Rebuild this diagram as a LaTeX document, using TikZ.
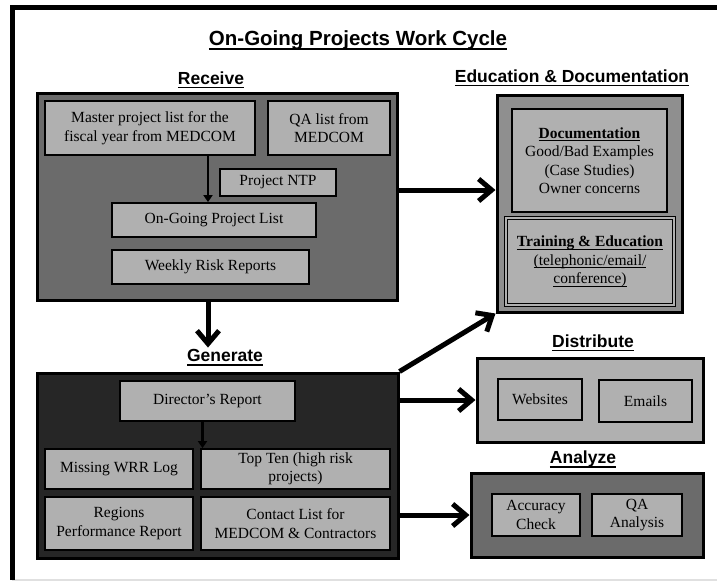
\documentclass[tikz,border=0pt]{standalone}
\usepackage{fontspec}
\setmainfont{Liberation Serif}
\newfontfamily\headfont{Liberation Sans}
\usetikzlibrary{arrows.meta}
\definecolor{boxgray}{gray}{0.69}
\definecolor{midgray}{gray}{0.42}
\definecolor{edugray}{gray}{0.56}
\definecolor{gengray}{gray}{0.15}
% underline: #1 gap below baseline, #2 rule thickness
\newcommand\ulwith[3]{\leavevmode\setbox0\hbox{#3}\rlap{\vrule height -#1 depth \dimexpr#1+#2\relax width \wd0}\box0}
\newcommand\hd[1]{\ulwith{2.5pt}{1.8pt}{#1}}
\newcommand\ul[1]{\ulwith{2.2pt}{0.9pt}{#1}}
\begin{document}
\begin{tikzpicture}[x=1pt,y=-1pt,
  panel/.style={rectangle,draw=black,line width=3pt,inner sep=0pt},
  item/.style={rectangle,draw=black,line width=1.8pt,fill=boxgray,inner sep=2pt,align=center,font=\fontsize{15.5}{18.5}\selectfont},
  head/.style={inner sep=0pt,font=\headfont\bfseries\fontsize{17.5}{20}\selectfont},
  flow/.style={line width=5pt,-{Straight Barb[length=13pt,width=22pt]}},
  link/.style={line width=2.5pt,-{Triangle[length=7pt,width=9pt]}}]
\useasboundingbox (0,0) rectangle (717,582);
% frame
\draw[line width=1.5pt,black!12] (12,580) -- (717,580);
\draw[line width=5pt] (717,7.5) -- (12.5,7.5) -- (12.5,580);
\node[head,font=\headfont\bfseries\fontsize{20.5}{24}\selectfont] (title) at (358,40) {\hd{On-Going Projects Work Cycle}};
% receive
\node[head] (rechead) at (211,80) {\hd{Receive}};
\node[panel,fill=midgray,minimum width=360,minimum height=207] (Receive) at (217,196.5) {};
\node[item,minimum width=210,minimum height=54] (Master) at (150,128) {Master project list for the\\fiscal year from MEDCOM};
\node[item,minimum width=122,minimum height=54] (QAlist) at (329,128) {QA list from\\MEDCOM};
\node[item,minimum width=116,minimum height=27] (NTP) at (278,182.5) {Project NTP};
\node[item,minimum width=204,minimum height=34] (OnGoing) at (214,220) {On-Going Project List};
\node[item,minimum width=197,minimum height=34] (Weekly) at (210.5,267) {Weekly Risk Reports};
\draw[link] ([xshift=58]Master.south) -- ([xshift=58]Master.south |- OnGoing.north);
% generate
\node[head] (genhead) at (225,358) {\hd{Generate}};
\node[panel,fill=gengray,minimum width=361,minimum height=185] (Generate) at (217.5,465.5) {};
\node[item,minimum width=175,minimum height=40] (Director) at (207.5,401) {Director’s Report};
\node[item,minimum width=148,minimum height=40] (Missing) at (119,469) {Missing WRR Log};
\node[item,minimum width=189,minimum height=40] (TopTen) at (295.5,469) {Top Ten (high risk\\projects)};
\node[item,minimum width=148,minimum height=53] (Regions) at (119,523.5) {Regions\\Performance Report};
\node[item,minimum width=189,minimum height=53] (Contact) at (295.5,523.5) {Contact List for\\MEDCOM \& Contractors};
\draw[link] ([xshift=-5]Director.south) -- ([xshift=-5]Director.south |- TopTen.north);
\draw[flow] ([xshift=-9]Receive.south) -- ([xshift=-9,yshift=2]Receive.south |- genhead.north);
% education & documentation
\node[head] (eduhead) at (572,78) {\hd{Education \& Documentation}};
\node[panel,fill=edugray,minimum width=185,minimum height=217] (Edu) at (589.5,203.5) {};
\node[item,minimum width=155,minimum height=103] (Doc) at (589.5,160.5)
  {\textbf{\ul{Documentation}}\\Good/Bad Examples\\(Case Studies)\\Owner concerns};
\node[item,double=boxgray,double distance=1.5pt,line width=1.1pt,minimum width=168,minimum height=87] (Training) at (590,261.5)
  {\textbf{\ul{Training \& Education}}\\\ul{(telephonic/email/}\\\ul{conference)}};
% distribute
\node[head] (disthead) at (593,343) {\hd{Distribute}};
\node[panel,fill=boxgray,minimum width=226,minimum height=84] (Dist) at (590,400) {};
\node[item,minimum width=84,minimum height=41] (Web) at (540,399.5) {Websites};
\node[item,minimum width=93,minimum height=42] (Emails) at (645.5,401) {Emails};
% analyze
\node[head] (anhead) at (583,459) {\hd{Analyze}};
\node[panel,fill=midgray,minimum width=232,minimum height=84] (Analyze) at (587,515) {};
\node[item,minimum width=88,minimum height=42] (Accuracy) at (536,515) {Accuracy\\Check};
\node[item,minimum width=90,minimum height=42] (QAan) at (637,515) {QA\\Analysis};
% flows between stages
\draw[flow] ([yshift=6.5]Receive.east) -- ([yshift=6.5]Receive.east -| Edu.west);
\draw[flow] (Generate.north east) -- (Edu.south west);
\draw[flow] (Generate.east |- Dist.west) -- (Dist.west);
\draw[flow] (Generate.east |- Analyze.west) -- (Analyze.west);
\end{tikzpicture}
\end{document}
